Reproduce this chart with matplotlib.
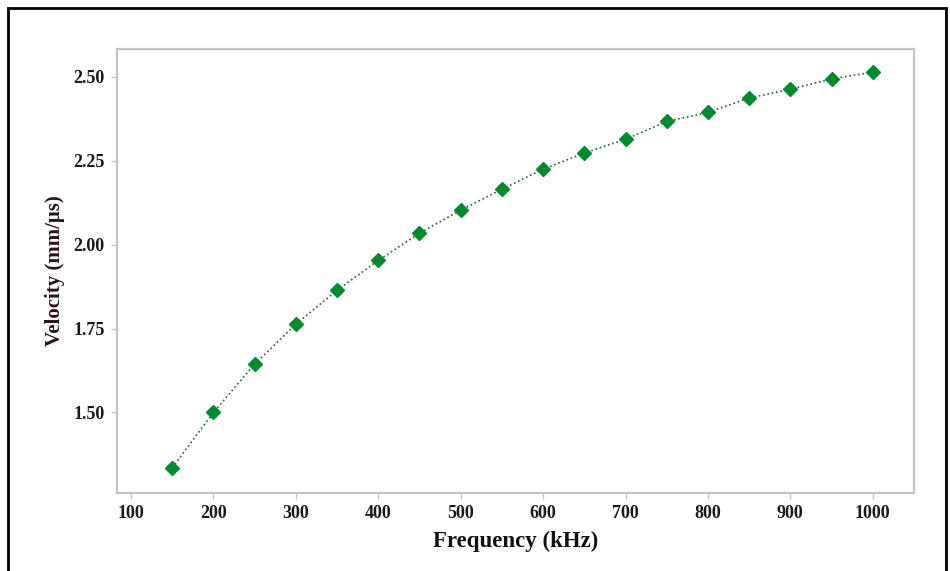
import matplotlib
matplotlib.use("Agg")
import matplotlib.pyplot as plt
from matplotlib.patches import Rectangle

# frequency (kHz) vs velocity (mm/us)
freq = [150, 200, 250, 300, 350, 400, 450, 500, 550, 600,
        650, 700, 750, 800, 850, 900, 950, 1000]
velocity = [1.335, 1.50, 1.644, 1.763, 1.864, 1.953, 2.034, 2.103, 2.165, 2.225,
            2.273, 2.314, 2.367, 2.394, 2.437, 2.463, 2.494, 2.514]

xticks = [100, 200, 300, 400, 500, 600, 700, 800, 900, 1000]
yticks = [1.50, 1.75, 2.00, 2.25, 2.50]

plt.rcParams['font.family'] = ['Liberation Serif', 'DejaVu Serif']

fig = plt.figure(figsize=(9.5, 5.71), dpi=100)
ax = fig.add_axes([117 / 950, 1 - 493 / 571, (914 - 117) / 950, (493 - 49) / 571])

ax.plot(freq, velocity, linestyle=':', color='#1e6b35', linewidth=1.2,
        marker='D', markersize=7.5, markerfacecolor='#008a2e',
        markeredgecolor='#008a2e')

ax.set_xlim(83, 1050)
ax.set_ylim(1.26, 2.583)
ax.set_xticks(xticks)
ax.set_yticks(yticks)
ax.set_yticklabels([f"{v:.2f}" for v in yticks])

for s in ax.spines.values():
    s.set_color('#c4c4c4')
    s.set_linewidth(1.6)

ax.tick_params(axis='both', length=4, width=1, color='#c4c4c4', pad=5,
               labelsize=13)
for lab in ax.get_xticklabels() + ax.get_yticklabels():
    lab.set_fontweight('bold')
    lab.set_color('#1a1a1a')

ax.set_xlabel('Frequency (kHz)', fontsize=16.5, fontweight='bold', labelpad=6,
              color='#111111')
ax.set_ylabel('Velocity (mm/μs)', fontsize=15, fontweight='bold', labelpad=6,
              color='#2a1414')

# outer frame
fig.patches.append(Rectangle((8 / 950, -0.05), (946 - 8) / 950, 1.05 - 8 / 571,
                             transform=fig.transFigure, fill=False,
                             edgecolor='black', linewidth=2))

fig.savefig('out.png', dpi=100)
